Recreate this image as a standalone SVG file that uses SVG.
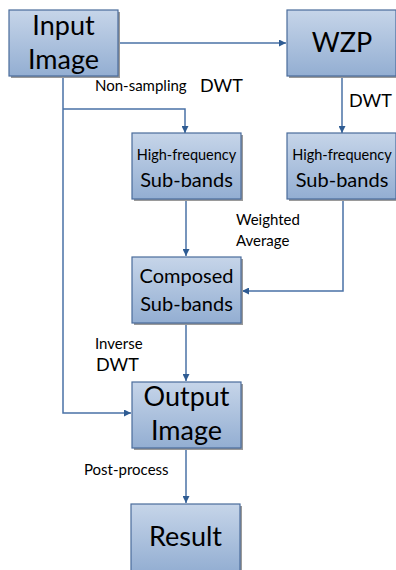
<svg xmlns="http://www.w3.org/2000/svg" width="396" height="570" viewBox="0 0 396 570">
  <defs>
    <linearGradient id="boxFill" x1="0" y1="0" x2="0" y2="1">
      <stop offset="0" stop-color="#c6d5e9"/>
      <stop offset="1" stop-color="#93aed2"/>
    </linearGradient>
    <marker id="arrow" viewBox="0 0 10 10" refX="10" refY="5" markerWidth="7" markerHeight="7" orient="auto" markerUnits="userSpaceOnUse">
      <path d="M0,0 L10,5 L0,10 z" fill="#2f5c93"/>
    </marker>
  </defs>
  <style>
    .shadow { fill: #9a9a9a; }
    .box { fill: url(#boxFill); stroke: #4a6c9b; stroke-width: 1.2; }
    .conn { fill: none; stroke: #4a72a6; stroke-width: 1.5; }
    text { font-family: Lato, "Liberation Sans", Arial, sans-serif; fill: #000; }
    .big { font-size: 27px; }
    .mid { font-size: 20px; }
    .small { font-size: 14.5px; }
    .lbl { font-size: 15px; }
    .dwt { font-size: 18px; }
  </style>

  <rect width="396" height="570" fill="#ffffff"/>

  <!-- connectors -->
  <g id="connectors">
    <path class="conn" d="M118,43 H286" marker-end="url(#arrow)"/>
    <path class="conn" d="M63,76 V413 H131" marker-end="url(#arrow)"/>
    <path class="conn" d="M63,109 H185 V133" marker-end="url(#arrow)"/>
    <path class="conn" d="M342,76 V133" marker-end="url(#arrow)"/>
    <path class="conn" d="M186,199 V256" marker-end="url(#arrow)"/>
    <path class="conn" d="M343,199 V291 H242" marker-end="url(#arrow)"/>
    <path class="conn" d="M186,323 V381" marker-end="url(#arrow)"/>
    <path class="conn" d="M186,448 V503" marker-end="url(#arrow)"/>
  </g>

  <!-- connector labels -->
  <g id="labels">
    <text class="lbl" x="95" y="91">Non-sampling</text>
    <text class="dwt" x="200" y="92">DWT</text>
    <text class="dwt" x="349" y="107">DWT</text>
    <text class="lbl" x="236" y="225">Weighted</text>
    <text class="lbl" x="236" y="246">Average</text>
    <text class="lbl" x="95" y="349">Inverse</text>
    <text class="dwt" x="96" y="371">DWT</text>
    <text class="lbl" x="84" y="475">Post-process</text>
  </g>

  <g id="input-image">
    <rect class="shadow" x="11" y="12" width="109" height="66"/>
    <rect class="box" x="9" y="10" width="109" height="66"/>
    <text class="big" x="63.5" y="35" text-anchor="middle">Input</text>
    <text class="big" x="63.5" y="69" text-anchor="middle">Image</text>
  </g>

  <g id="wzp">
    <rect class="shadow" x="289" y="12" width="109" height="66"/>
    <rect class="box" x="287" y="10" width="109" height="66"/>
    <text class="big" x="342" y="52" text-anchor="middle">WZP</text>
  </g>

  <g id="hf-subbands-1">
    <rect class="shadow" x="134" y="135" width="109" height="66"/>
    <rect class="box" x="132" y="133" width="109" height="66"/>
    <text class="small" x="186.5" y="160" text-anchor="middle">High-frequency</text>
    <text class="mid" x="186.5" y="187" text-anchor="middle">Sub-bands</text>
  </g>

  <g id="hf-subbands-2">
    <rect class="shadow" x="289" y="135" width="109" height="66"/>
    <rect class="box" x="287" y="133" width="109" height="66"/>
    <text class="small" x="342" y="160" text-anchor="middle">High-frequency</text>
    <text class="mid" x="342" y="187" text-anchor="middle">Sub-bands</text>
  </g>

  <g id="composed-subbands">
    <rect class="shadow" x="134" y="259" width="109" height="66"/>
    <rect class="box" x="132" y="257" width="109" height="66"/>
    <text class="mid" x="186.5" y="283" text-anchor="middle">Composed</text>
    <text class="mid" x="186.5" y="311" text-anchor="middle">Sub-bands</text>
  </g>

  <g id="output-image">
    <rect class="shadow" x="134" y="384" width="109" height="66"/>
    <rect class="box" x="132" y="382" width="109" height="66"/>
    <text class="big" x="186.5" y="406" text-anchor="middle">Output</text>
    <text class="big" x="186.5" y="440" text-anchor="middle">Image</text>
  </g>

  <g id="result">
    <rect class="shadow" x="133" y="506" width="109" height="66"/>
    <rect class="box" x="131" y="504" width="109" height="68"/>
    <text class="big" x="185.5" y="546" text-anchor="middle">Result</text>
  </g>
</svg>
